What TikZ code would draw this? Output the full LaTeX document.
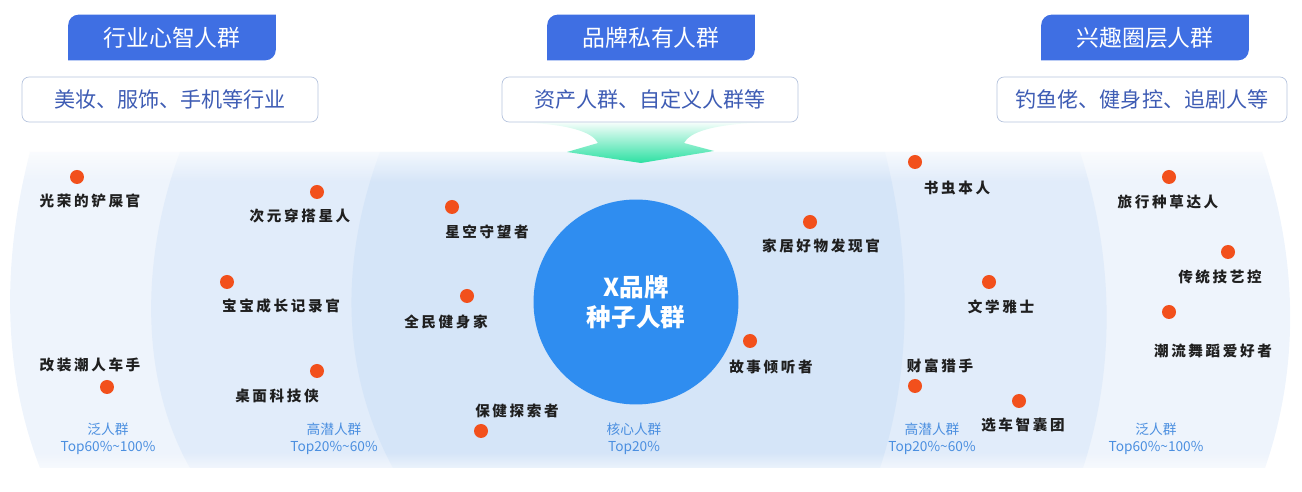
\documentclass[tikz,border=0pt]{standalone}
\usepackage{fontspec}
\setmainfont{Noto Sans CJK SC}
\newfontfamily\tagfont[LetterSpace=18]{Noto Sans CJK SC}
\usetikzlibrary{fadings,backgrounds}
\definecolor{tabblue}{RGB}{63,111,227}
\definecolor{subblue}{RGB}{62,92,180}
\definecolor{subline}{RGB}{182,196,222}
\definecolor{zoneout}{RGB}{238,244,252}
\definecolor{zonemid}{RGB}{225,236,250}
\definecolor{zonecore}{RGB}{213,229,248}
\definecolor{seedblue}{RGB}{47,141,240}
\definecolor{dotred}{RGB}{242,80,28}
\definecolor{zonetext}{RGB}{75,143,224}
\definecolor{mint}{RGB}{44,224,162}
\tikzfading[name=fadetop, top color=transparent!0, bottom color=transparent!100]
\tikzfading[name=fadebottom, top color=transparent!100, bottom color=transparent!0]
\tikzset{
tab/.style={text=white, font=\fontsize{13}{15}\selectfont, minimum width=4.14cm, minimum height=0.9cm, inner sep=0pt},
subbox/.style={draw=subline, fill=white, rounded corners=4pt, text=subblue, font=\fontsize{12}{14}\selectfont, minimum width=5.92cm, minimum height=0.9cm, inner sep=0pt},
seed/.style={circle, fill=seedblue, minimum size=4.1cm, text=white, align=center, font=\bfseries\fontsize{14}{17}\selectfont},
dot/.style={circle, fill=dotred, minimum size=0.28cm, inner sep=0pt},
tag/.style={font=\tagfont\bfseries\fontsize{8.3}{10}\selectfont, text=black!88, inner sep=1pt},
zonename/.style={font=\fontsize{7.8}{10}\selectfont, text=zonetext, align=center, inner sep=0pt}
}
\begin{document}
\begin{tikzpicture}[x=0.02cm, y=-0.02cm]
  \useasboundingbox (0,0) rectangle (1302,492);
  % bands
  \fill[zoneout] (30,152) .. controls (2,260) and (2,370) .. (40,468) -- (1265,468) .. controls (1299,370) and (1299,260) .. (1262,152) -- cycle;
  \fill[zonemid] (180,152) .. controls (140,260) and (140,380) .. (190,468) -- (1083,468) .. controls (1115,370) and (1115,260) .. (1080,152) -- cycle;
  \fill[zonecore] (380,152) .. controls (340,260) and (340,370) .. (393,468) -- (880,468) .. controls (912,370) and (912,260) .. (885,152) -- cycle;
  \fill[white, path fading=fadetop] (0,140) rectangle (1302,182);
  \fill[white, path fading=fadebottom] (0,452) rectangle (1302,482);
  % arrow
  \shade[top color=mint!4, bottom color=mint] (515,122) .. controls (570,124) and (592,132) .. (598,143) -- (567,152) -- (641,163) -- (714,151) -- (684,143) .. controls (690,132) and (712,124) .. (770,122) -- cycle;

  \node[tab] (tabA) at (172,37.5) {行业心智人群};
  \node[tab] (tabB) at (651,37.5) {品牌私有人群};
  \node[tab] (tabC) at (1145,37.5) {兴趣圈层人群};
  \begin{pgfonlayer}{background}
    \fill[tabblue] (tabA.south west) -- ([yshift=-6pt]tabA.north west) arc[start angle=180, end angle=90, radius=6pt] -- (tabA.north east) -- ([yshift=6pt]tabA.south east) arc[start angle=0, end angle=-90, radius=6pt] -- cycle;
    \fill[tabblue] (tabB.south west) -- ([yshift=-6pt]tabB.north west) arc[start angle=180, end angle=90, radius=6pt] -- (tabB.north east) -- ([yshift=6pt]tabB.south east) arc[start angle=0, end angle=-90, radius=6pt] -- cycle;
    \fill[tabblue] (tabC.south west) -- ([yshift=-6pt]tabC.north west) arc[start angle=180, end angle=90, radius=6pt] -- (tabC.north east) -- ([yshift=6pt]tabC.south east) arc[start angle=0, end angle=-90, radius=6pt] -- cycle;
  \end{pgfonlayer}

  \node[subbox] (subA) at (170,99.5) {美妆、服饰、手机等行业};
  \node[subbox] (subB) at (650,99.5) {资产人群、自定义人群等};
  \node[subbox, minimum width=5.8cm] (subC) at (1142,99.5) {钓鱼佬、健身控、追剧人等};

  \node[seed] (seed) at (636,302) {X品牌\\种子人群};

  % left outer
  \node[dot] (dotA1) at (77,177) {};
  \node[tag] (tagA1) at (90,201) {光荣的铲屎官};
  \node[tag] (tagA2) at (90,365) {改装潮人车手};
  \node[dot] (dotA2) at (107,387) {};
  % left middle
  \node[dot] (dotB1) at (317,192) {};
  \node[tag] (tagB1) at (300,216) {次元穿搭星人};
  \node[dot] (dotB2) at (227,282) {};
  \node[tag] (tagB2) at (281,306) {宝宝成长记录官};
  \node[dot] (dotB3) at (317,371) {};
  \node[tag] (tagB3) at (277,396) {桌面科技侠};
  % core
  \node[dot] (dotC1) at (452,207) {};
  \node[tag] (tagC1) at (487,232) {星空守望者};
  \node[dot] (dotC2) at (467,296) {};
  \node[tag] (tagC2) at (446,322) {全民健身家};
  \node[tag] (tagC3) at (517,411) {保健探索者};
  \node[dot] (dotC3) at (481,431) {};
  \node[dot] (dotC4) at (810,222) {};
  \node[tag] (tagC4) at (821,246) {家居好物发现官};
  \node[dot] (dotC5) at (750,341) {};
  \node[tag] (tagC5) at (771,367) {故事倾听者};
  % right middle
  \node[dot] (dotD1) at (915,162) {};
  \node[tag] (tagD1) at (957,188) {书虫本人};
  \node[dot] (dotD2) at (989,282) {};
  \node[tag] (tagD2) at (1001,307) {文学雅士};
  \node[tag] (tagD3) at (940,366) {财富猎手};
  \node[dot] (dotD3) at (915,386) {};
  \node[dot] (dotD4) at (1019,401) {};
  \node[tag] (tagD4) at (1023,425) {选车智囊团};
  % right outer
  \node[dot] (dotE1) at (1169,177) {};
  \node[tag] (tagE1) at (1168,202) {旅行种草达人};
  \node[dot] (dotE2) at (1228,252) {};
  \node[tag] (tagE2) at (1220,277) {传统技艺控};
  \node[dot] (dotE3) at (1169,312) {};
  \node[tag] (tagE3) at (1213,351) {潮流舞蹈爱好者};

  % band names
  \node[zonename] (zoneA) at (108,439) {泛人群\\Top60\%\textasciitilde100\%};
  \node[zonename] (zoneB) at (334,439) {高潜人群\\Top20\%\textasciitilde60\%};
  \node[zonename] (zoneC) at (634,439) {核心人群\\Top20\%};
  \node[zonename] (zoneD) at (932,439) {高潜人群\\Top20\%\textasciitilde60\%};
  \node[zonename] (zoneE) at (1156,439) {泛人群\\Top60\%\textasciitilde100\%};
\end{tikzpicture}
\end{document}
